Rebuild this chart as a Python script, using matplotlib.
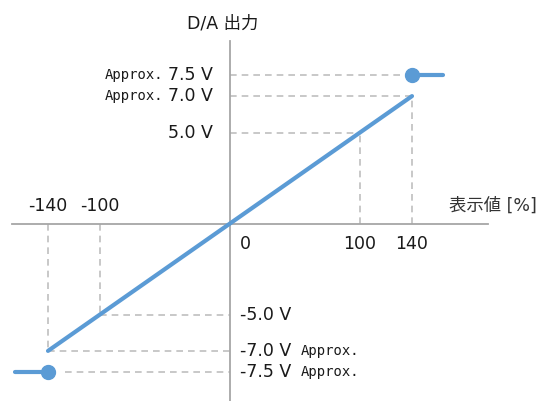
import numpy as np
import matplotlib
matplotlib.use("Agg")
import matplotlib.pyplot as plt

plt.rcParams['font.family'] = ['DejaVu Sans', 'Noto Sans CJK JP']

# ---- data ----
x_line = [-140, 140]          # display value [%]
y_line = [-7.0, 7.0]          # D/A output [V]
x_flat_right = [140, 164]
y_flat_right = [7.5, 7.5]
x_flat_left = [-165, -140]
y_flat_left = [-7.5, -7.5]
x_ticks = [-140, -100, 100, 140]
x_tick_labels = ['-140', '-100', '100', '140']
y_levels_pos = [7.5, 7.0, 5.0]
y_labels_pos = ['7.5 V', '7.0 V', '5.0 V']
y_levels_neg = [-5.0, -7.0, -7.5]
y_labels_neg = ['-5.0 V', '-7.0 V', '-7.5 V']
approx_levels = [7.5, 7.0, -7.0, -7.5]
x_ref_for_level = {7.5: 140, 7.0: 140, 5.0: 100, -5.0: -100, -7.0: -140, -7.5: -140}

BLUE = '#5B9BD5'
AXC = '#A6A6A6'
DASHC = '#BFBFBF'

# schematic stretch beyond |7|
K = 2.3
def fwd(y):
    y = np.asarray(y, dtype=float)
    a = np.abs(y)
    return np.where(a <= 7, y, np.sign(y) * (7 + (a - 7) * K))
def inv(f):
    f = np.asarray(f, dtype=float)
    a = np.abs(f)
    return np.where(a <= 7, f, np.sign(f) * (7 + (a - 7) / K))

fig = plt.figure(figsize=(5.39, 4.01), dpi=100)
ax = fig.add_axes([0, 0, 1, 1])
ax.set_yscale('function', functions=(fwd, inv))
xpx0 = 230.0; xs = 1.3
ypx0 = 223.5; ys = 18.2
ax.set_xlim(-xpx0 / xs, (539 - xpx0) / xs)
ax.set_ylim(float(inv((ypx0 - 401) / ys)), float(inv(ypx0 / ys)))
ax.axis('off')

# axes
ax.plot([(12 - xpx0) / xs, (488 - xpx0) / xs], [0, 0], color=AXC, lw=1.3, zorder=2)
ax.plot([0, 0], [float(inv((ypx0 - 401) / ys)), float(inv((ypx0 - 41) / ys))],
        color=AXC, lw=1.3, zorder=2)

dash = dict(color=DASHC, lw=1.2, ls=(0, (4, 3)), zorder=1)
# horizontal guides
for lv in y_levels_pos + y_levels_neg:
    xr = x_ref_for_level[lv]
    if lv == -7.5:
        ax.plot([-127, 0], [lv, lv], **dash)
    else:
        ax.plot([min(0, xr), max(0, xr)], [lv, lv], **dash)
# vertical guides
ax.plot([140, 140], [0, 7.0], **dash)
ax.plot([100, 100], [0, 5.0], **dash)
ax.plot([-100, -100], [0, -5.0], **dash)
ax.plot([-140, -140], [0, -7.0], **dash)

# data line
ax.plot(x_line, y_line, color=BLUE, lw=3.0, solid_capstyle='round', zorder=3)
ax.plot(x_flat_right, y_flat_right, color=BLUE, lw=3.0, solid_capstyle='round', zorder=3)
ax.plot(x_flat_left, y_flat_left, color=BLUE, lw=3.0, solid_capstyle='round', zorder=3)
ax.plot([x_flat_right[0]], [y_flat_right[0]], 'o', color=BLUE, ms=10, zorder=4)
ax.plot([x_flat_left[1]], [y_flat_left[1]], 'o', color=BLUE, ms=10, zorder=4)

big = 12.5
small = 10
tc = '#1a1a1a'
mono = ['DejaVu Sans Mono', 'DejaVu Sans']
# x tick labels
for xv, lab in zip(x_ticks, x_tick_labels):
    if xv < 0:
        ax.annotate(lab, (xv, 0), xytext=(0, 18), textcoords='offset pixels',
                    ha='center', va='center', fontsize=big, color=tc)
    else:
        ax.annotate(lab, (xv, 0), xytext=(0, -20), textcoords='offset pixels',
                    ha='center', va='center', fontsize=big, color=tc)
ax.annotate('0', (0, 0), xytext=(15, -20), textcoords='offset pixels',
            ha='center', va='center', fontsize=big, color=tc)

# y labels
for lv, lab in zip(y_levels_pos, y_labels_pos):
    ax.annotate(lab, (0, lv), xytext=(-17, 0), textcoords='offset pixels',
                ha='right', va='center', fontsize=big, color=tc)
for lv, lab in zip(y_levels_neg, y_labels_neg):
    ax.annotate(lab, (0, lv), xytext=(10, 0), textcoords='offset pixels',
                ha='left', va='center', fontsize=big, color=tc)
for lv in approx_levels:
    if lv > 0:
        ax.annotate('Approx.', (0, lv), xytext=(-67, 0), textcoords='offset pixels',
                    ha='right', va='center', fontsize=small, color=tc, family=mono)
    else:
        ax.annotate('Approx.', (0, lv), xytext=(71, 0), textcoords='offset pixels',
                    ha='left', va='center', fontsize=small, color=tc, family=mono)

# axis titles
ax.annotate('D/A 出力', (0, float(inv(ypx0 / ys))), xytext=(-7, -23), textcoords='offset pixels',
            ha='center', va='center', fontsize=big, color=tc)
ax.annotate('表示値 [%]', ((488 - xpx0) / xs, 0), xytext=(5, 18), textcoords='offset pixels',
            ha='center', va='center', fontsize=big, color='#333333')

fig.savefig('out.png', dpi=100)
